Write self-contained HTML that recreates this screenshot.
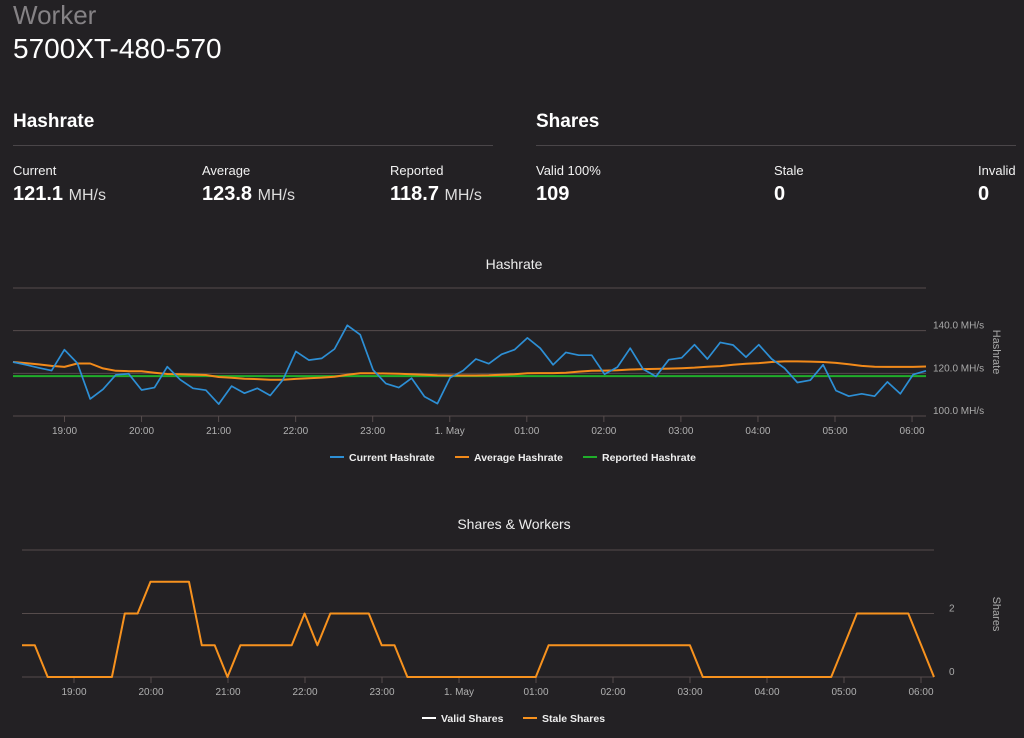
<!DOCTYPE html>
<html><head><meta charset="utf-8"><style>
body{margin:0;width:1024px;height:738px;background:#232124;overflow:hidden;font-family:"Liberation Sans",sans-serif;color:#fff;position:relative}
.a{position:absolute;white-space:nowrap}
.lbl{font-size:13px;color:#f2f2f2}
.val{font-size:20px;font-weight:bold}
.val span{font-size:16px;font-weight:normal;color:#ddd}
.sec{font-size:19px;font-weight:bold}
.sep{position:absolute;height:1px;background:#4a4649}
svg{position:absolute;left:0;top:0}
svg text{font-family:"Liberation Sans",sans-serif}
</style></head><body>
<div class="a" style="left:13px;top:0px;font-size:26px;color:#858285;font-weight:300">Worker</div>
<div class="a" style="left:13px;top:33px;font-size:28px">5700XT-480-570</div>
<div class="a sec" style="left:13px;top:111px">Hashrate</div>
<div class="sep" style="left:13px;top:145px;width:480px"></div>
<div class="a sec" style="left:536px;top:111px">Shares</div>
<div class="sep" style="left:536px;top:145px;width:480px"></div>
<div class="a lbl" style="left:13px;top:163px">Current</div>
<div class="a val" style="left:13px;top:183px">121.1 <span>MH/s</span></div>
<div class="a lbl" style="left:202px;top:163px">Average</div>
<div class="a val" style="left:202px;top:183px">123.8 <span>MH/s</span></div>
<div class="a lbl" style="left:390px;top:163px">Reported</div>
<div class="a val" style="left:390px;top:183px">118.7 <span>MH/s</span></div>
<div class="a lbl" style="left:536px;top:163px">Valid 100%</div>
<div class="a val" style="left:536px;top:183px">109</div>
<div class="a lbl" style="left:774px;top:163px">Stale</div>
<div class="a val" style="left:774px;top:183px">0</div>
<div class="a lbl" style="left:978px;top:163px">Invalid</div>
<div class="a val" style="left:978px;top:183px">0</div>
<svg id="s" width="1024" height="738"></svg>
<script>
const hourLabels=["19:00","20:00","21:00","22:00","23:00","1. May","01:00","02:00","03:00","04:00","05:00","06:00"];
const currentHashrate=[125.3,124,122.6,121.3,131.1,124.8,108,112.5,119.3,119.8,112.2,113.3,123.1,117,113,112.1,105.6,114,110.7,113,109.6,117,130.3,126.2,127,131.4,142.5,138.1,121.6,115.2,113.3,117.7,109.1,105.8,118,121.3,126.7,124.5,128.9,131.1,136.6,131.8,124,129.8,128.5,128.5,119.6,122.9,131.8,122,118.5,126.4,127.3,133.4,126.7,134.5,133.3,127.6,133.4,126.7,122.4,115.7,116.8,124,111.9,109.3,110.4,109.3,116,110.4,119.4,121.2];
const averageHashrate=[125.3,124.8,124.2,123.5,123,124.6,124.6,122.3,121.2,121,121,120.3,119.7,119.6,119.4,119.2,118.3,117.9,117.5,117.3,117,117,117.4,117.7,118,118.4,119.3,120,120,119.9,119.8,119.6,119.3,119.1,119,119,119,119.1,119.3,119.6,120,120.1,120.1,120.3,120.8,121.2,121.3,121.4,121.8,122,122.1,122.2,122.4,122.7,123.1,123.4,124,124.5,124.8,125.3,125.6,125.6,125.5,125.3,124.9,124.3,123.5,123.1,123,123,123,123.2];
const reportedHashrate=[118.7];
const hashTicks=[100,120,140,160];
const hashTickLabels=["100.0 MH/s","120.0 MH/s","140.0 MH/s",""];
const staleShares=[1,1,0,0,0,0,0,0,2,2,3,3,3,3,1,1,0,1,1,1,1,1,2,1,2,2,2,2,1,1,0,0,0,0,0,0,0,0,0,0,0,1,1,1,1,1,1,1,1,1,1,1,1,0,0,0,0,0,0,0,0,0,0,0,1,2,2,2,2,2,1,0];
const shareTicks=[0,2,4];
const shareTickLabels=["0","2",""];
const NS="http://www.w3.org/2000/svg",S=document.getElementById('s');
function mk(t,a,txt){const e=document.createElementNS(NS,t);for(const k in a)e.setAttribute(k,a[k]);if(txt!==undefined)e.textContent=txt;S.appendChild(e);return e;}
function chart(o){
  const xs=i=>o.x0+(o.x1-o.x0)*i/(o.n-1);
  const ys=v=>o.yb-(v-o.vmin)*(o.yb-o.yt)/(o.vmax-o.vmin);
  const xh=h=>o.h0+o.hw*h;
  let t=mk('text',{x:o.tx,y:o.ty,fill:'#eee','font-size':14,'text-anchor':'middle'},o.title);
  
  o.ticks.forEach((v,i)=>{let g=mk('line',{x1:o.x0,x2:o.x1,y1:ys(v),y2:ys(v),stroke:'#564c4c','stroke-width':1});
    
    if(o.tl[i]){let l=mk('text',{x:o.lx,y:ys(v)+4-o.lo,fill:'#aaa','font-size':10},o.tl[i]);
    }});
  hourLabels.forEach((h,i)=>{const x=xh(i);
    let tk=mk('line',{x1:x,x2:x,y1:o.yb,y2:o.yb+6,stroke:'#564c4c'});
    
    let l=mk('text',{x:x,y:o.yb+18,fill:'#b0b0b0','font-size':10,'text-anchor':'middle'},h);
    });
  let yt=mk('text',{transform:`translate(${o.yax},${o.yay}) rotate(90)`,fill:'#aaa','font-size':11,'text-anchor':'middle'},o.ytitle);
  
  o.series.forEach(s=>{
    let p;
    if(s.data.length===1)p=`M${o.x0},${ys(s.data[0])}L${o.x1},${ys(s.data[0])}`;
    else p=s.data.map((v,i)=>(i?'L':'M')+xs(i).toFixed(1)+','+ys(v).toFixed(1)).join('');
    let e=mk('path',{d:p,fill:'none',stroke:s.c,'stroke-width':s.w||2,'stroke-linejoin':'round'});
    });
  o.legend.forEach(L=>{let ln=mk('line',{x1:L.x,x2:L.x+14,y1:o.ly,y2:o.ly,stroke:L.c,'stroke-width':2});
    
    let tx=mk('text',{x:L.x+19,y:o.ly+4,fill:'#eee','font-size':10.5,'font-weight':'bold'},L.t);
    });
}
chart({id:'hashrate-chart',title:'Hashrate',tx:514,ty:269,x0:13,x1:926,n:currentHashrate.length,vmin:100,vmax:160,yb:416,yt:288,
 h0:64.5,hw:77.05,ticks:hashTicks,tl:hashTickLabels,lx:933,lo:6,ytitle:'Hashrate',yax:993,yay:352,
 series:[{data:reportedHashrate,c:'#1fae2a',name:'reported-hashrate-line'},{data:averageHashrate,c:'#f28a1a',name:'average-hashrate-line'},{data:currentHashrate,c:'#2d8fd5',name:'current-hashrate-line',w:1.7}],
 ly:457,legend:[{x:330,c:'#2d8fd5',t:'Current Hashrate'},{x:455,c:'#f28a1a',t:'Average Hashrate'},{x:583,c:'#1fae2a',t:'Reported Hashrate'}]});
chart({id:'shares-chart',title:'Shares & Workers',tx:514,ty:529,x0:22,x1:934,n:staleShares.length,vmin:0,vmax:4,yb:677,yt:550,
 h0:74,hw:77.0,ticks:shareTicks,tl:shareTickLabels,lx:949,lo:6,ytitle:'Shares',yax:993,yay:614,
 series:[{data:staleShares,c:'#f7921e',name:'stale-shares-line'}],
 ly:718,legend:[{x:422,c:'#ffffff',t:'Valid Shares'},{x:523,c:'#f7921e',t:'Stale Shares'}]});
</script>
</body></html>
